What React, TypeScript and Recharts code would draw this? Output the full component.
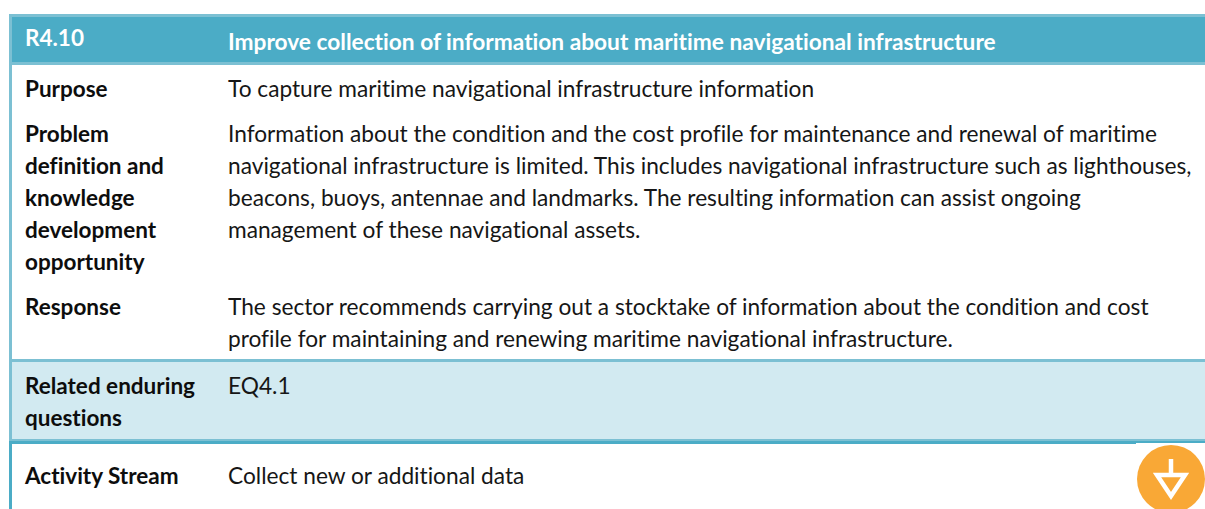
import { ReferenceArea, Scatter, ScatterChart, XAxis, YAxis } from "recharts";

const WIDTH = 1205;
const HEIGHT = 509;

const headerCode = "R4.10";
const headerTitle = "Improve collection of information about maritime navigational infrastructure";

const rowLabels = [
  ["Purpose"],
  ["Problem", "definition and", "knowledge", "development", "opportunity"],
  ["Response"],
  ["Related enduring", "questions"],
  ["Activity Stream"],
];
const rowTexts = [
  ["To capture maritime navigational infrastructure information"],
  [
    "Information about the condition and the cost profile for maintenance and renewal of maritime",
    "navigational infrastructure is limited. This includes navigational infrastructure such as lighthouses,",
    "beacons, buoys, antennae and landmarks. The resulting information can assist ongoing",
    "management of these navigational assets.",
  ],
  [
    "The sector recommends carrying out a stocktake of information about the condition and cost",
    "profile for maintaining and renewing maritime navigational infrastructure.",
  ],
  ["EQ4.1"],
  ["Collect new or additional data"],
];
const rowBaselines = [97, 141.5, 315, 394, 484];
const lineStep = 32;

const LEFT_COL = 25;
const RIGHT_COL = 228;
const FONT = "Lato, Carlito, 'Open Sans', sans-serif";
const LABEL_SIZE = 22.5;
const BODY_SIZE = 22.7;

type Cell = { x: number; y: number; text: string; bold: boolean; color: string; size: number };

const cells: Cell[] = [
  { x: LEFT_COL, y: 46, text: headerCode, bold: true, color: "#ffffff", size: LABEL_SIZE },
  { x: RIGHT_COL, y: 50, text: headerTitle, bold: true, color: "#ffffff", size: BODY_SIZE },
];
rowLabels.forEach((lines, i) => {
  lines.forEach((text, j) =>
    cells.push({ x: LEFT_COL, y: rowBaselines[i] + j * lineStep, text, bold: true, color: "#0d0d0d", size: LABEL_SIZE })
  );
});
rowTexts.forEach((lines, i) => {
  lines.forEach((text, j) =>
    cells.push({ x: RIGHT_COL, y: rowBaselines[i] + j * lineStep, text, bold: false, color: "#161616", size: BODY_SIZE })
  );
});

const badge = [{ x: 1171, y: 479 }];

function CellText(props: any) {
  const { cx, cy, payload } = props;
  return (
    <text
      x={cx}
      y={cy}
      fill={payload.color}
      fontFamily={FONT}
      fontSize={payload.size}
      fontWeight={payload.bold ? 700 : 400}
      style={{ fontVariantLigatures: "none" }}
    >
      {payload.text}
    </text>
  );
}

function Badge(props: any) {
  const { cx, cy } = props;
  return (
    <g>
      <rect x={cx - 35} y={cy - 36} width={70} height={66} fill="#ffffff" />
      <circle cx={cx} cy={cy} r={34} fill="#f9a836" />
      <path d={`M${cx} ${cy - 20}V${cy - 4}`} stroke="#ffffff" strokeWidth={4.5} fill="none" />
      <path
        d={`M${cx - 14} ${cy - 4}H${cx + 14}L${cx} ${cy + 17}Z`}
        stroke="#ffffff"
        strokeWidth={4.5}
        fill="none"
      />
    </g>
  );
}

export default function App() {
  return (
    <div style={{ position: "absolute", left: 0, top: 0 }}>
      <ScatterChart width={WIDTH} height={HEIGHT} margin={{ top: 0, right: 0, bottom: 0, left: 0 }}>
        <XAxis type="number" dataKey="x" domain={[0, WIDTH]} hide allowDataOverflow />
        <YAxis type="number" dataKey="y" domain={[0, HEIGHT]} reversed hide allowDataOverflow />

        {/* header band and its lighter edges */}
        <ReferenceArea x1={9} x2={WIDTH} y1={14} y2={65} fill="#7cc0d3" fillOpacity={1} stroke="none" />
        <ReferenceArea x1={12} x2={WIDTH} y1={17} y2={62} fill="#4bacc6" fillOpacity={1} stroke="none" />
        {/* left edge */}
        <ReferenceArea x1={9} x2={12} y1={65} y2={441} fill="#7cc0d3" fillOpacity={1} stroke="none" />
        <ReferenceArea x1={9} x2={12} y1={441} y2={HEIGHT} fill="#4bacc6" fillOpacity={1} stroke="none" />
        {/* enduring questions row */}
        <ReferenceArea x1={12} x2={WIDTH} y1={359} y2={362} fill="#7cc0d3" fillOpacity={1} stroke="none" />
        <ReferenceArea x1={12} x2={WIDTH} y1={362} y2={439} fill="#d2eaf1" fillOpacity={1} stroke="none" />
        <ReferenceArea x1={12} x2={WIDTH} y1={439} y2={441} fill="#7cc0d3" fillOpacity={1} stroke="none" />
        <ReferenceArea x1={9} x2={WIDTH} y1={441} y2={444} fill="#4bacc6" fillOpacity={1} stroke="none" />

        <Scatter data={cells} shape={CellText} isAnimationActive={false} />
        <Scatter data={badge} shape={Badge} isAnimationActive={false} />
      </ScatterChart>
    </div>
  );
}
